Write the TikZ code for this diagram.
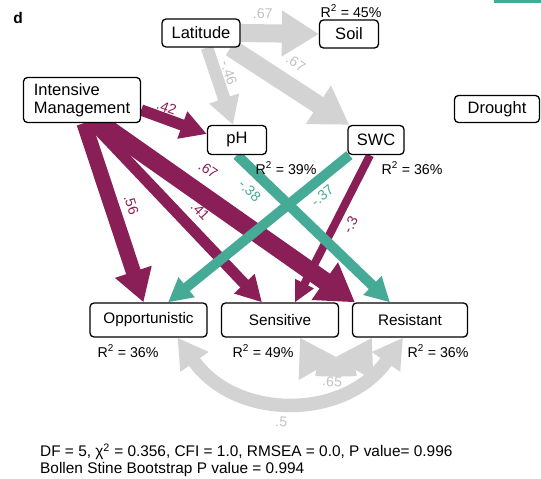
\documentclass[tikz,border=0pt]{standalone}
\usepackage{fontspec}
\setmainfont{Liberation Sans}
\usetikzlibrary{arrows.meta,backgrounds}

\definecolor{mgmtc}{HTML}{8A1E56}
\definecolor{tealc}{HTML}{45AB96}
\definecolor{latc}{HTML}{D3D3D3}
\definecolor{latlbl}{HTML}{C2C2C2}

\tikzset{
  var/.style={draw, rounded corners=4pt, line width=1.3pt, fill=white, inner sep=0pt,
    minimum height=28pt, font=\fontsize{16.5}{18}\selectfont},
  outc/.style={var, minimum width=117pt, minimum height=34pt, font=\fontsize{15.3}{17}\selectfont},
  coef/.style={line width=#1*27pt, -{Triangle[length=8pt 1.6, width=0pt 2.4]}},
  covar/.style={line width=#1*27pt, latc,
    {Triangle[length=8pt 1.6, width=0pt 2.4]}-{Triangle[length=8pt 1.6, width=0pt 2.4]}},
  lbl/.style={font=\fontsize{14.2}{15}\selectfont, inner sep=0.5pt, sloped},
  rsq/.style={font=\fontsize{14.2}{15}\selectfont, inner sep=0pt},
}

\begin{document}
\begin{tikzpicture}[x=1pt, y=-1pt]
  \useasboundingbox (0,0) rectangle (541,479);
  \fill[tealc] (494,0) rectangle (541,3);
  \node[font=\fontsize{15.5}{17}\selectfont\bfseries] (panel) at (18,18) {d};

  % predictors
  \node[var, minimum width=78pt] (lat) at (201,33) {Latitude};
  \node[var, minimum width=59pt] (soil) at (349,34) {Soil};
  \node[var, minimum width=117pt, minimum height=45pt, align=left] (im) at (82,100) {Intensive\\Management};
  \node[var, minimum width=85pt, minimum height=27pt] (drought) at (497,109) {Drought};
  \node[var, minimum width=59pt, minimum height=29pt] (ph) at (237,140) {pH};
  \node[var, minimum width=56pt, minimum height=29pt] (swc) at (376,140) {SWC};

  % responses
  \node[outc] (opp) at (148.5,320) {Opportunistic};
  \node[outc] (sens) at (280,320) {Sensitive};
  \node[outc, minimum width=115pt] (res) at (410,320) {Resistant};

  % explained variance
  \node[rsq] (soilr2) at (351,11) {R\textsuperscript{2} = 45\%};
  \node[rsq] (phr2) at (286,168) {R\textsuperscript{2} = 39\%};
  \node[rsq] (swcr2) at (412,168) {R\textsuperscript{2} = 36\%};
  \node[rsq] (oppr2) at (128,351) {R\textsuperscript{2} = 36\%};
  \node[rsq] (sensr2) at (263,351) {R\textsuperscript{2} = 49\%};
  \node[rsq] (resr2) at (438,351) {R\textsuperscript{2} = 36\%};

  \begin{scope}[on background layer]
    % latitude
    \draw[coef=0.67, latc] (lat.east) -- (soil.west)
      node[lbl, pos=0.28, above=5pt, text=latlbl] {.67};
    \draw[coef=0.46, latc] ([xshift=6pt]lat.south) -- ([xshift=-4pt]ph.north)
      node[lbl, pos=0.38, above=1pt, text=latlbl] {-.46};
    \draw[coef=0.67, latc] ([xshift=-10pt]lat.south east) -- ([xshift=2pt]swc.north west)
      node[lbl, pos=0.445, above=8pt, text=latlbl] {.67};
    % management
    \draw[coef=0.42, mgmtc] ([yshift=-10pt]im.east) -- ([yshift=6pt]ph.west)
      node[lbl, pos=0.33, above=0pt] {.42};
    \draw[coef=0.56, mgmtc] ([xshift=2pt]im.south) -- ([xshift=-5pt]opp.north)
      node[lbl, pos=0.49, above=6pt] {.56};
    \draw[coef=0.41, mgmtc] ([xshift=10pt]im.south) -- ([xshift=-18pt]sens.north)
      node[lbl, pos=0.56, above=7pt] {.41};
    \draw[coef=0.67, mgmtc] ([xshift=18pt]im.south) -- ([xshift=-55pt]res.north)
      node[lbl, pos=0.37, above=9.5pt] {.67};
    \draw[coef=0.3, mgmtc] ([xshift=-6pt]swc.south) -- ([xshift=15pt]sens.north)
      node[lbl, pos=0.43, below=4.5pt] {-.3};
    % soil properties
    \draw[coef=0.38, tealc] (ph.south) -- ([xshift=-20pt]res.north)
      node[lbl, pos=0.16, below=6pt] {-.38};
    \draw[coef=0.37, tealc] ([xshift=2pt]swc.south west) -- ([xshift=19.5pt]opp.north)
      node[lbl, pos=0.2, below=4pt] {-.37};
    % residual covariances
    \draw[covar=0.5] ([xshift=29pt]opp.south) to[out=-55, in=-125, looseness=1.15]
      node[lbl, pos=0.47, below=10pt, text=latlbl] {.5} ([xshift=-7pt]res.south);
    \draw[covar=0.65] ([xshift=20pt]sens.south) to[out=-60, in=-120, looseness=1.25]
      node[lbl, pos=0.47, below=7pt, text=latlbl] {.65} ([xshift=-38pt]res.south);
  \end{scope}

  \node[anchor=west, align=left, inner sep=0pt, font=\fontsize{15.4}{17}\selectfont] (fitstat) at (40,460)
    {DF = 5, χ\textsuperscript{2} = 0.356, CFI = 1.0, RMSEA = 0.0, P value= 0.996\\
     Bollen Stine Bootstrap P value = 0.994};
\end{tikzpicture}
\end{document}
